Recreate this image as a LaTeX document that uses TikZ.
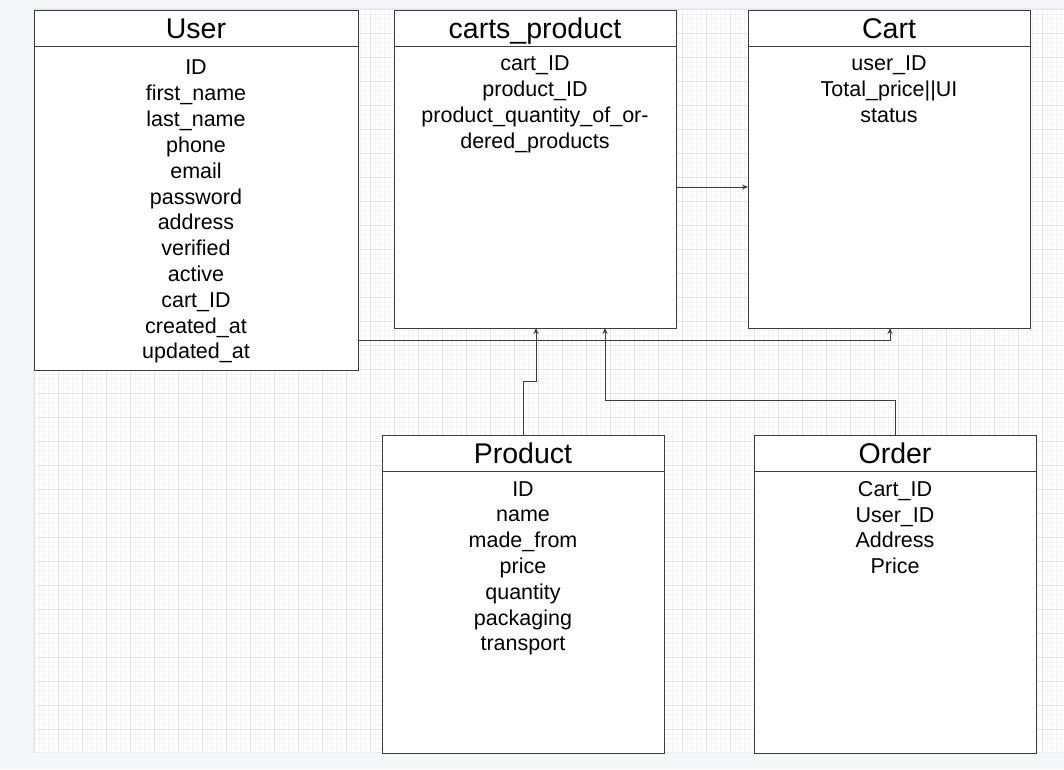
\documentclass[tikz,border=0pt]{standalone}
\usepackage{fontspec}
\setmainfont{Liberation Sans}
\usetikzlibrary{arrows.meta,positioning,calc}
\definecolor{pagebg}{HTML}{F6F7F9}
\definecolor{gridminor}{HTML}{F4F4F4}
\definecolor{gridmajor}{HTML}{E4E4E4}
\definecolor{edge}{HTML}{3C3C3C}

\begin{document}
\begin{tikzpicture}[
    x=1pt, y=-1pt,
    entity/.style={rectangle, draw=edge, fill=white, line width=1pt, inner sep=0pt, outer sep=0pt},
    header/.style={draw=edge, line width=1pt},
    title/.style={anchor=base, inner sep=0pt, font=\fontsize{28.5pt}{34pt}\selectfont},
    fields/.style={anchor=north, align=center, inner sep=0pt, font=\fontsize{21.5pt}{25.8pt}\selectfont},
    arrow/.style={-{Stealth[length=6pt,width=5pt]}, draw=edge, line width=0.9pt}
]
    \useasboundingbox (0,0) rectangle (1064,769);
    \fill[pagebg] (0,0) rectangle (1064,769);

    % Canvas and grid
    \fill[black!7] (33,8) rectangle (1064,753);
    \fill[white] (34,9) rectangle (1064,752);
    \begin{scope}[shift={(34,9)}]
        \draw[gridminor, line width=0.6pt, step=4.8pt] (0,743) grid (1030,0);
        \draw[gridmajor, line width=0.9pt, step=24pt] (0,743) grid (1030,0);
    \end{scope}

    % Entities
    \node[entity, minimum width=324pt, minimum height=360pt] (user) at (196,190) {};
    \node[entity, minimum width=282pt, minimum height=318pt] (cartsproduct) at (535,169) {};
    \node[entity, minimum width=282pt, minimum height=318pt] (cart) at (889,169) {};
    \node[entity, minimum width=282pt, minimum height=318pt] (product) at (523,594) {};
    \node[entity, minimum width=282pt, minimum height=318pt] (order) at (895,594) {};

    % Header rules
    \foreach \ent in {user, cartsproduct, cart, product, order}
        \draw[header] ([yshift=-36pt]\ent.north west) -- ([yshift=-36pt]\ent.north east);

    % Titles
    \node[title] (usertitle) at ([yshift=-28pt]user.north) {User};
    \node[title] (cartsproducttitle) at ([yshift=-28pt]cartsproduct.north) {carts\_product};
    \node[title] (carttitle) at ([yshift=-28pt]cart.north) {Cart};
    \node[title] (producttitle) at ([yshift=-28pt]product.north) {Product};
    \node[title] (ordertitle) at ([yshift=-28pt]order.north) {Order};

    % Attributes
    \node[fields] (userfields) at ([yshift=-50pt]user.north) {
        ID\\ first\_name\\ last\_name\\ phone\\ email\\ password\\ address\\
        verified\\ active\\ cart\_ID\\ created\_at\\ updated\_at
    };
    \node[fields] (cartsproductfields) at ([yshift=-46pt]cartsproduct.north) {
        cart\_ID\\ product\_ID\\ product\_quantity\_of\_or-\\ dered\_products
    };
    \node[fields] (cartfields) at ([yshift=-46pt]cart.north) {
        user\_ID\\ Total\_price||UI\\ status
    };
    \node[fields] (productfields) at ([yshift=-46pt]product.north) {
        ID\\ name\\ made\_from\\ price\\ quantity\\ packaging\\ transport
    };
    \node[fields] (orderfields) at ([yshift=-46pt]order.north) {
        Cart\_ID\\ User\_ID\\ Address\\ Price
    };

    % Relations
    \draw[arrow] ([yshift=-18pt]cartsproduct.east) -- ([yshift=-18pt]cart.west);
    \draw[arrow] ([yshift=-150pt]user.east) -| ([xshift=1pt]cart.south);
    \draw[arrow] (product.north) -- ++(0,-54) -| ([xshift=1pt]cartsproduct.south);
    \draw[arrow] (order.north) -- ++(0,-35) -| ([xshift=70pt]cartsproduct.south);
\end{tikzpicture}
\end{document}
